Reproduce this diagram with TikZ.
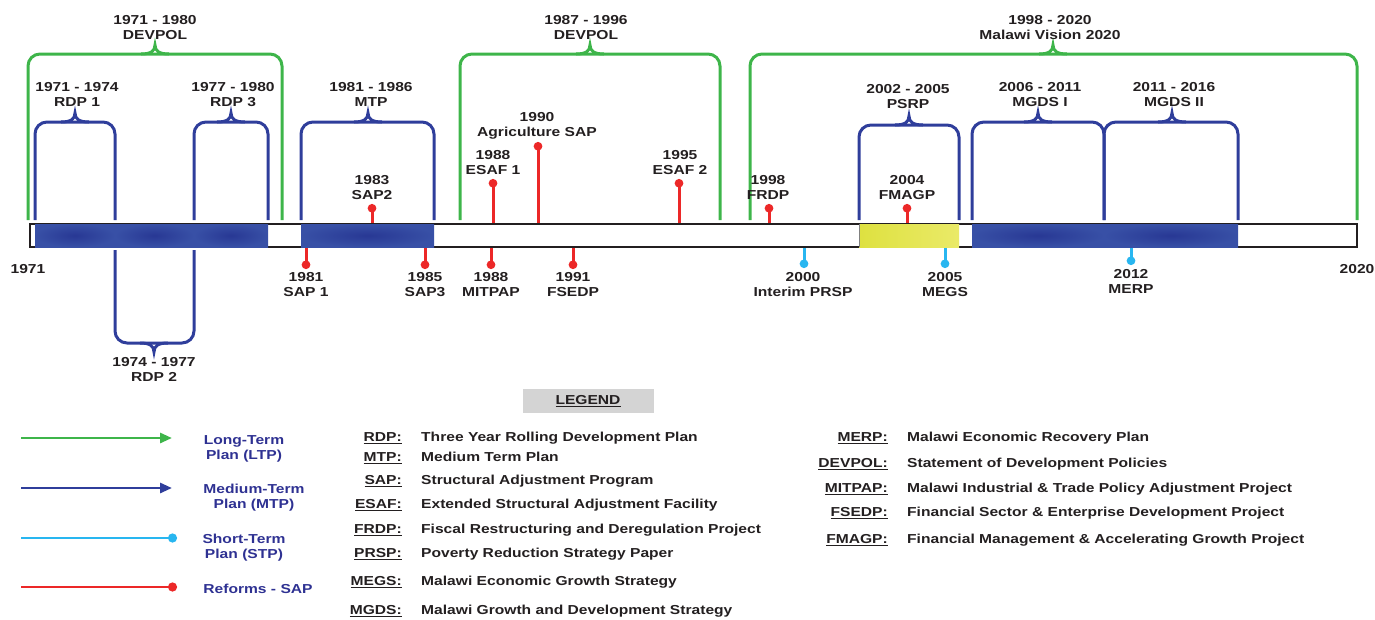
\documentclass[tikz,border=0pt]{standalone}
\usepackage{fontspec}
\setmainfont{Liberation Sans}[FakeStretch=1.2]
\newsavebox\ulbox
\newcommand\ulx[1]{\sbox\ulbox{#1}\rlap{\rule[-2.8pt]{\wd\ulbox}{1.2pt}}\usebox\ulbox}
\usetikzlibrary{arrows.meta}
\definecolor{lgreen}{RGB}{62,181,74}
\definecolor{mblue}{RGB}{47,62,155}
\definecolor{barblue}{RGB}{56,80,166}
\definecolor{barbluedark}{RGB}{40,56,148}
\definecolor{scyan}{RGB}{40,182,240}
\definecolor{rred}{RGB}{236,40,40}
\definecolor{yelA}{RGB}{222,225,64}
\definecolor{yelB}{RGB}{234,234,104}
\definecolor{legblue}{RGB}{46,49,146}
\definecolor{legray}{RGB}{212,212,212}
\definecolor{txt}{RGB}{35,31,32}
\newcommand\TopBrace[6]{%
  \draw[#1,rounded corners=12pt] (#2,#6) -- (#2,#5) -- (#3,#5) -- (#3,#6);
  \draw[#1,line join=miter] (#4-14,#5) .. controls (#4-4,#5) and (#4,#5-3) .. (#4,#5-9) .. controls (#4,#5-3) and (#4+4,#5) .. (#4+14,#5);
}
\tikzset{
  lab/.style={font=\fontsize{13}{15}\selectfont\bfseries, text=txt, align=center, inner sep=0pt},
  leglab/.style={lab, text=legblue},
  gbrace/.style={lgreen, line width=3pt},
  bbrace/.style={mblue, line width=3pt},
  pinred/.style={rred, line width=3pt, -{Circle[length=8.5pt]}},
  pincyan/.style={scyan, line width=3pt, -{Circle[length=8.5pt]}},
  abbr/.style={lab, anchor=base east},
  defn/.style={lab, anchor=base west},
}
\begin{document}
\begin{tikzpicture}[x=1pt,y=-1pt]
\useasboundingbox (0,0) rectangle (1375,619);
% main bar
\draw[line width=1.4pt, txt, fill=white] (30,224) rectangle (1357,247);
\foreach \a/\b in {35/115,115/194,194/268,301/434,972/1104,1104/1238}
  \shade[inner color=barbluedark, outer color=barblue] (\a,224) rectangle (\b,247);
\shade[left color=yelA, right color=yelB] (859,224) rectangle (959,247);
\draw[gray, line width=0.8pt] (859,224) -- (859,247);
% green braces
\TopBrace{gbrace}{28}{282}{155}{54}{220}
\TopBrace{gbrace}{460}{720}{590}{54}{220}
\TopBrace{gbrace}{750}{1357}{1053}{54}{220}
% blue braces
\TopBrace{bbrace}{35}{115}{75}{122}{220}
\TopBrace{bbrace}{194}{268}{231}{122}{220}
\TopBrace{bbrace}{301}{434}{368}{122}{220}
\TopBrace{bbrace}{859}{959}{909}{125}{220}
\TopBrace{bbrace}{972}{1104}{1038}{122}{220}
\TopBrace{bbrace}{1104}{1238}{1172}{122}{220}
% lower brace RDP 2
\draw[bbrace,rounded corners=12pt] (115,250) -- (115,343) -- (194,343) -- (194,250);
\draw[bbrace] (140,343) .. controls (150,343) and (154,346) .. (154,352) .. controls (154,346) and (158,343) .. (168,343);
% pins up
\draw[pinred] (372,223) -- (372,204);
\draw[pinred] (493,223) -- (493,179);
\draw[pinred] (538,223) -- (538,142);
\draw[pinred] (679,223) -- (679,179);
\draw[pinred] (769,223) -- (769,204);
\draw[pinred] (907,223) -- (907,204);
% pins down
\draw[pinred] (306,248) -- (306,269);
\draw[pinred] (425,248) -- (425,269);
\draw[pinred] (491,248) -- (491,269);
\draw[pinred] (573,248) -- (573,269);
\draw[pincyan] (804,248) -- (804,268);
\draw[pincyan] (945,248) -- (945,268);
\draw[pincyan] (1131,248) -- (1131,265);
% labels on timeline
\node[lab] (g1) at (155,27.5) {1971 - 1980\\DEVPOL};
\node[lab] (g2) at (586,27.5) {1987 - 1996\\DEVPOL};
\node[lab] (g3) at (1050,27.5) {1998 - 2020\\Malawi Vision 2020};
\node[lab] (rdp1) at (77,94.5) {1971 - 1974\\RDP 1};
\node[lab] (rdp3) at (233,94.5) {1977 - 1980\\RDP 3};
\node[lab] (mtp) at (371,94.5) {1981 - 1986\\MTP};
\node[lab] (psrp) at (908,96.5) {2002 - 2005\\PSRP};
\node[lab] (mgds1) at (1040,94.5) {2006 - 2011\\MGDS I};
\node[lab] (mgds2) at (1174,94.5) {2011 - 2016\\MGDS II};
\node[lab] (rdp2) at (154,369.5) {1974 - 1977\\RDP 2};
\node[lab] (sap2) at (372,187.5) {1983\\SAP2};
\node[lab] (esaf1) at (493,162.5) {1988\\ESAF 1};
\node[lab] (agsap) at (537,125.5) {1990\\Agriculture SAP};
\node[lab] (esaf2) at (680,162.5) {1995\\ESAF 2};
\node[lab] (frdp) at (768,187.5) {1998\\FRDP};
\node[lab] (fmagp) at (907,187.5) {2004\\FMAGP};
\node[lab] (sap1) at (306,284.5) {1981\\SAP 1};
\node[lab] (sap3) at (425,284.5) {1985\\SAP3};
\node[lab] (mitpap) at (491,284.5) {1988\\MITPAP};
\node[lab] (fsedp) at (573,284.5) {1991\\FSEDP};
\node[lab] (iprsp) at (803,284.5) {2000\\Interim PRSP};
\node[lab] (megs) at (945,284.5) {2005\\MEGS};
\node[lab] (merp) at (1131,281.5) {2012\\MERP};
\node[lab] (y1971) at (28,269) {1971};
\node[lab] (y2020) at (1357,269) {2020};
% legend
\node[lab, fill=legray, minimum width=131pt, minimum height=24pt] (legend) at (588,401) {\ulx{LEGEND}};
\draw[lgreen, line width=2.8pt, -{Triangle[length=12pt,width=10pt]}] (21,438) -- (172,438);
\draw[mblue, line width=2.8pt, -{Triangle[length=12pt,width=10pt]}] (21,488) -- (172,488);
\draw[scyan, line width=2.8pt, -{Circle[length=9pt]}] (21,538) -- (177,538);
\draw[rred, line width=2.8pt, -{Circle[length=9pt]}] (21,587) -- (177,587);
\node[leglab] (ltp) at (244,448.5) {Long-Term\\Plan (LTP)};
\node[leglab] (mtpl) at (254,497.5) {Medium-Term\\Plan (MTP)};
\node[leglab] (stp) at (244,547.5) {Short-Term\\Plan (STP)};
\node[leglab] (ref) at (258,589) {Reforms - SAP};
% abbreviations left
\foreach \n/\y/\ab/\de in {
  a1/437/RDP:/Three Year Rolling Development Plan,
  a2/457/MTP:/Medium Term Plan,
  a3/480/SAP:/Structural Adjustment Program,
  a4/504/ESAF:/Extended Structural Adjustment Facility,
  a5/529/FRDP:/Fiscal Restructuring and Deregulation Project,
  a6/553/PRSP:/Poverty Reduction Strategy Paper,
  a7/581/MEGS:/Malawi Economic Growth Strategy,
  a8/610/MGDS:/Malawi Growth and Development Strategy}{
  \node[abbr] (\n) at (402,\y+4.6) {\ulx{\ab}};
  \node[defn] (\n d) at (421,\y+4.6) {\de};
}
\foreach \n/\y/\ab/\de in {
  b1/437/MERP:/Malawi Economic Recovery Plan,
  b2/463/DEVPOL:/Statement of Development Policies,
  b3/488/MITPAP:/Malawi Industrial \& Trade Policy Adjustment Project,
  b4/512/FSEDP:/Financial Sector \& Enterprise Development Project,
  b5/539/FMAGP:/Financial Management \& Accelerating Growth Project}{
  \node[abbr] (\n) at (888,\y+4.6) {\ulx{\ab}};
  \node[defn] (\n d) at (907,\y+4.6) {\de};
}
\end{tikzpicture}
\end{document}
